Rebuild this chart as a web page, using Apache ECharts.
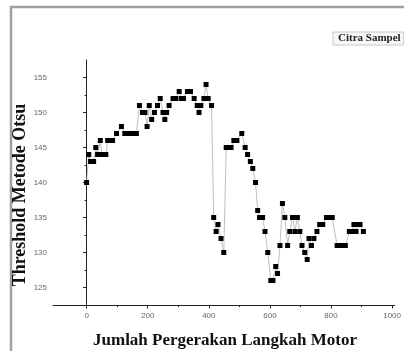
<!DOCTYPE html>
<html>
<head>
<meta charset="utf-8">
<script src="https://cdn.jsdelivr.net/npm/echarts@6/dist/echarts.min.js"></script>
<style>html,body{margin:0;padding:0;background:#fff;}#c{width:404px;height:351px;}</style>
</head>
<body>
<div id="c"></div>
<script>
// Data
var seriesName = 'Citra Sampel';
var xTitle = 'Jumlah Pergerakan Langkah Motor';
var yTitle = 'Threshold Metode Otsu';
var xLabels = [0, 200, 400, 600, 800, 1000];
var xMinorTicks = [100, 300, 500, 700, 900];
var yLabels = [125, 130, 135, 140, 145, 150, 155];
var yMinorTicks = [127.5, 132.5, 137.5, 142.5, 147.5, 152.5];
var steps = [0,7,13,23,30,36,45,50,63,69,85,98,114,125,135,145,155,163,173,183,191,198,205,213,222,232,241,250,256,262,270,283,292,303,310,317,330,340,352,362,368,374,384,391,398,409,416,424,430,440,449,457,465,473,482,492,508,519,527,536,544,553,560,566,576,584,593,603,610,619,625,633,641,649,658,665,674,682,690,698,705,714,722,728,736,744,754,763,773,785,795,804,820,828,838,847,860,868,875,882,888,895,906];
var thresholds = [140,144,143,143,145,144,146,144,144,146,146,147,148,147,147,147,147,147,151,150,150,148,151,149,150,151,152,150,149,150,151,152,152,153,152,152,153,153,152,151,150,151,152,154,152,151,135,133,134,132,130,145,145,145,146,146,147,145,144,143,142,140,136,135,135,133,130,126,126,128,127,131,137,135,131,133,135,133,135,133,131,130,129,132,131,132,133,134,134,135,135,135,131,131,131,131,133,133,134,133,134,134,133];

var points = steps.map(function (s, i) { return [s, thresholds[i]]; });

var chart = echarts.init(document.getElementById('c'), null, {renderer: 'canvas'});
var tickFont = {fontFamily: 'Liberation Sans', fontSize: 8, color: '#666'};
var axisLineStyle = {color: '#222', width: 1};
chart.setOption({
  animation: false,
  backgroundColor: '#fff',
  grid: {left: 53, right: 7, top: 60, bottom: 46, containLabel: false},
  xAxis: [{
    type: 'value', min: -110, max: 1008, position: 'bottom',
    axisLine: {show: true, lineStyle: axisLineStyle},
    axisTick: {show: true, length: 3.5, customValues: xLabels, lineStyle: axisLineStyle},
    axisLabel: Object.assign({customValues: xLabels, margin: 7, formatter: function (v) { return String(v); }}, tickFont),
    splitLine: {show: false}
  }, {
    type: 'value', min: -110, max: 1008, position: 'bottom', offset: 0,
    axisLine: {show: false},
    axisTick: {show: true, length: 2, customValues: xMinorTicks, lineStyle: axisLineStyle},
    axisLabel: {show: false},
    splitLine: {show: false}
  }],
  yAxis: [{
    type: 'value', min: 122.5, max: 157.5, position: 'left',
    axisLine: {show: true, lineStyle: axisLineStyle},
    axisTick: {show: true, length: 3.5, customValues: yLabels, lineStyle: axisLineStyle},
    axisLabel: Object.assign({customValues: yLabels, margin: 6}, tickFont),
    splitLine: {show: false}
  }, {
    type: 'value', min: 122.5, max: 157.5, position: 'left', offset: 0,
    axisLine: {show: false},
    axisTick: {show: true, length: 2, customValues: yMinorTicks, lineStyle: axisLineStyle},
    axisLabel: {show: false},
    splitLine: {show: false}
  }],
  legend: {
    data: [{name: seriesName, icon: 'none'}],
    left: 333, top: 32,
    itemWidth: 0, itemHeight: 0, itemGap: 0,
    padding: [1, 3, 1, 0],
    borderColor: '#c8c8c8', borderWidth: 1,
    backgroundColor: '#f7f7f7',
    selectedMode: false,
    textStyle: {fontFamily: 'Liberation Serif', fontWeight: 'bold', fontSize: 11, color: '#222'}
  },
  graphic: [
    {type: 'rect', shape: {x: 11, y: 7, width: 420, height: 360}, style: {fill: 'none', stroke: '#a0a0a0', lineWidth: 2.5}, silent: true},
    {type: 'text', x: 20, y: 195, rotation: Math.PI / 2,
     style: {text: yTitle, fontFamily: 'Liberation Serif', fontWeight: 'bold', fontSize: 18, fill: '#111', textAlign: 'center', textVerticalAlign: 'middle'}},
    {type: 'text', x: 225, y: 341,
     style: {text: xTitle, fontFamily: 'Liberation Serif', fontWeight: 'bold', fontSize: 17, fill: '#111', textAlign: 'center', textVerticalAlign: 'middle'}}
  ],
  series: [{
    name: seriesName,
    type: 'line',
    xAxisIndex: 0, yAxisIndex: 0,
    data: points,
    symbol: 'rect',
    symbolSize: [5, 5],
    showAllSymbol: true,
    itemStyle: {color: '#000'},
    lineStyle: {color: '#b0b0b0', width: 0.8}
  }]
});
</script>
</body>
</html>
